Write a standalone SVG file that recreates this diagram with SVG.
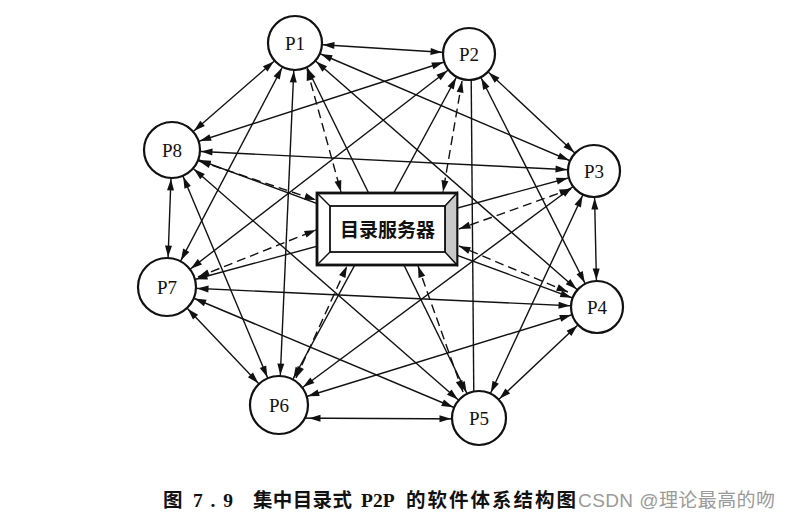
<svg xmlns="http://www.w3.org/2000/svg" width="789" height="524" viewBox="0 0 789 524">
<style>
.e{stroke:#111;stroke-width:1.4;fill:none}
.d{stroke:#111;stroke-width:1.4;fill:none;stroke-dasharray:9 5}
.n{fill:#fff;stroke:#111;stroke-width:2.2}
.t{font-family:"Liberation Serif","Times New Roman",serif;font-size:19px;fill:#111;text-anchor:middle}
.cap{font-family:"Liberation Serif","Noto Sans CJK SC",serif;font-size:19.5px;font-weight:bold;fill:#111}
.wm{font-family:"Liberation Sans","Noto Sans CJK SC",sans-serif;font-size:19px;fill:#9a9a9a}
</style>
<defs>
<marker id="a0" markerUnits="userSpaceOnUse" orient="auto-start-reverse" refX="0" refY="0" markerWidth="12" markerHeight="8" overflow="visible"><path d="M0,0 L-11.5,-3.5 L-11.5,3.5 z" fill="#111"/></marker>
<marker id="a26" markerUnits="userSpaceOnUse" orient="auto-start-reverse" refX="27" refY="0" markerWidth="12" markerHeight="8" overflow="visible"><path d="M0,0 L-11.5,-3.5 L-11.5,3.5 z" fill="#111"/></marker>
<marker id="a27" markerUnits="userSpaceOnUse" orient="auto-start-reverse" refX="28" refY="0" markerWidth="12" markerHeight="8" overflow="visible"><path d="M0,0 L-11.5,-3.5 L-11.5,3.5 z" fill="#111"/></marker>
<marker id="a28" markerUnits="userSpaceOnUse" orient="auto-start-reverse" refX="29" refY="0" markerWidth="12" markerHeight="8" overflow="visible"><path d="M0,0 L-11.5,-3.5 L-11.5,3.5 z" fill="#111"/></marker>
<marker id="a29" markerUnits="userSpaceOnUse" orient="auto-start-reverse" refX="30" refY="0" markerWidth="12" markerHeight="8" overflow="visible"><path d="M0,0 L-11.5,-3.5 L-11.5,3.5 z" fill="#111"/></marker>
</defs>
<rect width="789" height="524" fill="#fff"/>
<g id="connectors">
<g id="peer-links">
<line class="e" x1="295" y1="43" x2="469" y2="54" marker-start="url(#a27)" marker-end="url(#a26)"/>
<line class="e" x1="295" y1="43" x2="594" y2="171" marker-start="url(#a27)" marker-end="url(#a26)"/>
<line class="e" x1="295" y1="43" x2="597" y2="307" marker-start="url(#a27)" marker-end="url(#a26)"/>
<line class="e" x1="295" y1="43" x2="479" y2="418" marker-start="url(#a27)" marker-end="url(#a27)"/>
<line class="e" x1="295" y1="43" x2="279" y2="405" marker-start="url(#a27)" marker-end="url(#a29)"/>
<line class="e" x1="295" y1="43" x2="167" y2="287" marker-start="url(#a27)" marker-end="url(#a29)"/>
<line class="e" x1="295" y1="43" x2="172" y2="150" marker-start="url(#a27)" marker-end="url(#a28)"/>
<line class="e" x1="469" y1="54" x2="594" y2="171" marker-start="url(#a26)" marker-end="url(#a26)"/>
<line class="e" x1="469" y1="54" x2="597" y2="307" marker-start="url(#a26)" marker-end="url(#a26)"/>
<line class="e" x1="471" y1="54" x2="474" y2="418"/>
<line class="e" x1="469" y1="54" x2="279" y2="405" marker-start="url(#a26)" marker-end="url(#a29)"/>
<line class="e" x1="469" y1="54" x2="167" y2="287" marker-start="url(#a26)" marker-end="url(#a29)"/>
<line class="e" x1="469" y1="54" x2="172" y2="150" marker-start="url(#a26)" marker-end="url(#a28)"/>
<line class="e" x1="594" y1="171" x2="597" y2="307" marker-start="url(#a26)" marker-end="url(#a26)"/>
<line class="e" x1="594" y1="171" x2="479" y2="418" marker-start="url(#a26)" marker-end="url(#a27)"/>
<line class="e" x1="594" y1="171" x2="279" y2="405" marker-start="url(#a26)" marker-end="url(#a29)"/>
<line class="e" x1="594" y1="171" x2="167" y2="287" marker-start="url(#a26)" marker-end="url(#a29)"/>
<line class="e" x1="594" y1="171" x2="172" y2="150" marker-start="url(#a26)" marker-end="url(#a28)"/>
<line class="e" x1="597" y1="307" x2="479" y2="418" marker-start="url(#a26)" marker-end="url(#a27)"/>
<line class="e" x1="597" y1="307" x2="279" y2="405" marker-start="url(#a26)" marker-end="url(#a29)"/>
<line class="e" x1="597" y1="307" x2="167" y2="287" marker-start="url(#a26)" marker-end="url(#a29)"/>
<line class="e" x1="597" y1="307" x2="172" y2="150" marker-start="url(#a26)" marker-end="url(#a28)"/>
<line class="e" x1="479" y1="419" x2="279" y2="418" marker-start="url(#a27)" marker-end="url(#a29)"/>
<line class="e" x1="479" y1="418" x2="167" y2="287" marker-start="url(#a27)" marker-end="url(#a29)"/>
<line class="e" x1="479" y1="418" x2="172" y2="150" marker-start="url(#a27)" marker-end="url(#a28)"/>
<line class="e" x1="279" y1="405" x2="167" y2="287" marker-start="url(#a29)" marker-end="url(#a29)"/>
<line class="e" x1="279" y1="405" x2="172" y2="150" marker-start="url(#a29)" marker-end="url(#a28)"/>
<line class="e" x1="167" y1="287" x2="172" y2="150" marker-start="url(#a29)" marker-end="url(#a28)"/>
</g>
</g>
<g id="server">
<rect x="317" y="193" width="140" height="72" fill="#fff" stroke="#111" stroke-width="2.8"/>
<polygon points="445,206 457,193 457,265 445,252" fill="#c9c9c9" stroke="#111" stroke-width="1.5"/>
<rect x="330" y="206" width="115" height="46" fill="#fff" stroke="#111" stroke-width="1.8"/>
<line class="e" x1="317" y1="193" x2="330" y2="206"/>
<line class="e" x1="317" y1="265" x2="330" y2="252"/>
<text x="387.5" y="237" style="font-family:'Noto Sans CJK SC',sans-serif;font-size:19px;font-weight:bold;fill:#111;text-anchor:middle">目录服务器</text>
</g>
<g id="server-links">
<line class="d" x1="307" y1="69" x2="341" y2="192" marker-start="url(#a0)" marker-end="url(#a0)"/>
<line class="d" x1="462" y1="81" x2="443" y2="192" marker-start="url(#a0)" marker-end="url(#a0)"/>
<line class="d" x1="571" y1="189" x2="459" y2="229" marker-start="url(#a0)" marker-end="url(#a0)"/>
<line class="d" x1="568" y1="292" x2="459" y2="246" marker-start="url(#a0)" marker-end="url(#a0)"/>
<line class="d" x1="463" y1="392" x2="418" y2="266" marker-start="url(#a0)" marker-end="url(#a0)"/>
<line class="d" x1="296" y1="378" x2="347" y2="266" marker-start="url(#a0)" marker-end="url(#a0)"/>
<line class="d" x1="198" y1="277" x2="316" y2="230" marker-start="url(#a0)" marker-end="url(#a0)"/>
<line class="d" x1="199" y1="161" x2="316" y2="200" marker-start="url(#a0)" marker-end="url(#a0)"/>
</g>
<g id="P1"><circle class="n" cx="295" cy="43" r="27"/><text class="t" x="295" y="50">P1</text></g>
<g id="P2"><circle class="n" cx="469" cy="54" r="26"/><text class="t" x="469" y="61">P2</text></g>
<g id="P3"><circle class="n" cx="594" cy="171" r="26"/><text class="t" x="594" y="178">P3</text></g>
<g id="P4"><circle class="n" cx="597" cy="307" r="26"/><text class="t" x="597" y="314">P4</text></g>
<g id="P5"><circle class="n" cx="479" cy="418" r="27"/><text class="t" x="479" y="425">P5</text></g>
<g id="P6"><circle class="n" cx="279" cy="405" r="29"/><text class="t" x="279" y="412">P6</text></g>
<g id="P7"><circle class="n" cx="167" cy="287" r="29"/><text class="t" x="167" y="294">P7</text></g>
<g id="P8"><circle class="n" cx="172" cy="150" r="28"/><text class="t" x="172" y="157">P8</text></g>
<g id="caption">
<text class="cap" x="163" y="507">图</text>
<text class="cap" x="193" y="507" textLength="40" lengthAdjust="spacing">7.9</text>
<text class="cap" x="253" y="507" textLength="99" lengthAdjust="spacing">集中目录式</text>
<text class="cap" x="361" y="507">P2P</text>
<text class="cap" x="406" y="507" textLength="170" lengthAdjust="spacing">的软件体系结构图</text>
<text class="wm" x="578" y="507" textLength="197" lengthAdjust="spacing">CSDN @理论最高的吻</text>
</g>
</svg>
